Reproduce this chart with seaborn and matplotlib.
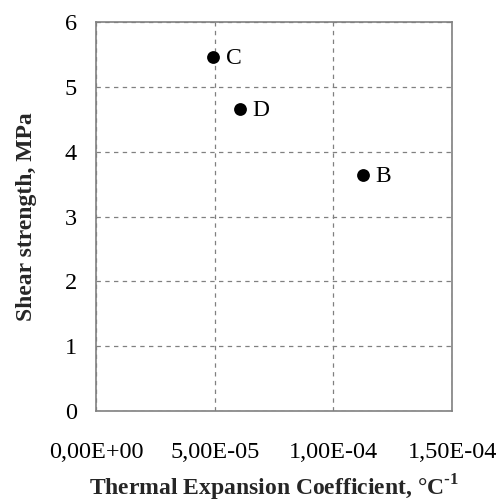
import matplotlib
matplotlib.use("Agg")
import matplotlib.pyplot as plt
import seaborn as sns
import pandas as pd
from matplotlib.ticker import FuncFormatter, MultipleLocator

labels = ["C", "D", "B"]
cte = [4.93e-5, 6.07e-5, 1.125e-4]
shear = [5.46, 4.66, 3.64]

df = pd.DataFrame({"cte": cte, "shear": shear, "label": labels})

sns.set_style("white")
plt.rcParams["font.family"] = ["Liberation Serif", "DejaVu Serif"]

fig = plt.figure(figsize=(4.98, 5.04), dpi=100)
ax = fig.add_axes([0.193, 0.1845, 0.715, 0.7715])

sns.scatterplot(data=df, x="cte", y="shear", ax=ax, color="black", s=85,
                edgecolor="black", linewidth=0, zorder=3)
for _, r in df.iterrows():
    ax.annotate(r["label"], (r["cte"], r["shear"]), xytext=(9, -1),
                textcoords="offset points", va="center", ha="left",
                fontsize=17, color="black")

ax.set_xlim(0, 1.5e-4)
ax.set_ylim(0, 6)
ax.xaxis.set_major_locator(MultipleLocator(5e-5))
ax.yaxis.set_major_locator(MultipleLocator(1))
ax.xaxis.set_major_formatter(FuncFormatter(lambda v, p: f"{v:.2E}".replace(".", ",")))
ax.yaxis.set_major_formatter(FuncFormatter(lambda v, p: f"{v:g}"))

ax.grid(True, color="#808080", linestyle=(0, (3.5, 3.5)), linewidth=0.9)
for s in ax.spines.values():
    s.set_color("#808080")
    s.set_linewidth(1.2)
ax.tick_params(axis="both", direction="out", length=6, width=1.1, color="#808080",
               labelsize=17.5, labelcolor="black", pad=6)
ax.tick_params(axis="y", pad=8)
ax.tick_params(axis="x", pad=16)

ax.set_xlabel("Thermal Expansion Coefficient, °C$^{\\mathregular{\\text{-}1}}$",
              fontsize=17, fontweight="bold", labelpad=7)
ax.set_ylabel("Shear strength, MPa", fontsize=17, fontweight="bold", labelpad=20)

fig.savefig("out.png", dpi=100)
